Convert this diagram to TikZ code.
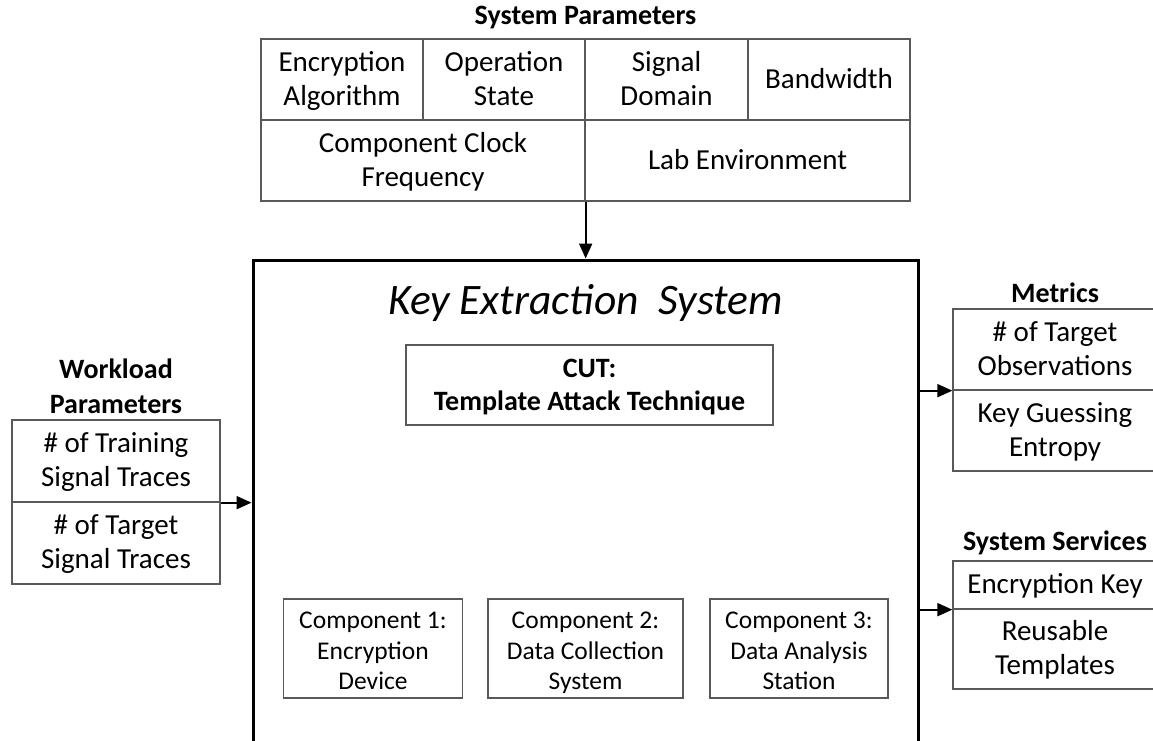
\documentclass[tikz,border=0pt]{standalone}
\usepackage{fontspec}
\setmainfont{Carlito}
\usetikzlibrary{arrows.meta}
\begin{document}
\begin{tikzpicture}[x=1pt,y=-1pt,
  cell/.style={draw=black!65,line width=1.3pt,inner sep=0pt,align=center,font=\fontsize{29}{34}\selectfont,
    text height=51pt,text depth=0pt},
  oneline/.style={text height=17pt,text depth=0pt},
  comp/.style={draw=black!65,line width=1.3pt,inner sep=0pt,align=center,font=\fontsize{25.5}{30.5}\selectfont,minimum height=99,
    text height=82pt,text depth=0pt},
  ttl/.style={font=\fontsize{28}{35}\selectfont\bfseries,align=center,inner sep=0pt},
  arr/.style={line width=2pt,-{Triangle[length=15pt,width=13pt]}}]
\useasboundingbox (0,0) rectangle (1153,740);
% System parameters table
\node[ttl] (spt) at (585.5,18) {System Parameters};
\node[cell,minimum width=162,minimum height=81] (enc) at (342,79.5) {Encryption\\Algorithm};
\node[cell,minimum width=162,minimum height=81] (ops) at (504,79.5) {Operation\\State};
\node[cell,minimum width=163,minimum height=81] (sig) at (666.5,79.5) {Signal\\Domain};
\node[cell,oneline,minimum width=162,minimum height=81] (bw) at (829,79.5) {Bandwidth};
\node[cell,minimum width=324,minimum height=81] (clk) at (423,160.5) {Component Clock\\Frequency};
\node[cell,oneline,minimum width=325,minimum height=81] (lab) at (747.5,160.5) {Lab Environment};
% main system box
\node[draw,line width=3pt,minimum width=665,minimum height=560,inner sep=0pt] (kes) at (585.5,540) {};
\node[font=\fontsize{43.5}{52}\selectfont\itshape,inner sep=0pt] (kt) at (585.5,303) {Key Extraction\hspace{0.45em}System};
\node[cell,font=\fontsize{28}{33}\selectfont\bfseries,text height=50pt,minimum width=367,minimum height=80] (cut) at (589.5,385) {CUT:\\Template Attack Technique};
\node[comp,minimum width=179] (c1) at (373,648.5) {Component 1:\\Encryption\\Device};
\node[comp,minimum width=195] (c2) at (585.5,648.5) {Component 2:\\Data Collection\\System};
\node[comp,minimum width=178] (c3) at (799,648.5) {Component 3:\\Data Analysis\\Station};
\draw[arr] (clk.south east) -- (kes.north -| clk.south east);
% workload parameters
\node[ttl] (wlt) at (116,386) {Workload\\Parameters};
\node[cell,minimum width=208,minimum height=82] (wl1) at (116,461) {\# of Training\\Signal Traces};
\node[cell,minimum width=208,minimum height=82] (wl2) at (116,543) {\# of Target\\Signal Traces};
\draw[arr] (wl1.south east) -- (wl1.south east -| kes.west);
% metrics
\node[ttl] (mt) at (1055,293) {Metrics};
\node[cell,minimum width=204,minimum height=81] (m1) at (1055,349.5) {\# of Target\\Observations};
\node[cell,minimum width=204,minimum height=81] (m2) at (1055,430.5) {Key Guessing\\Entropy};
\draw[arr] (m1.south west -| kes.east) -- (m1.south west);
% system services
\node[ttl] (sst) at (1055,543) {System Services};
\node[cell,oneline,minimum width=204,minimum height=48] (s1) at (1055,585) {Encryption Key};
\node[cell,minimum width=204,minimum height=80] (s2) at (1055,649) {Reusable\\Templates};
\draw[arr] (s1.south west -| kes.east) -- (s1.south west);
\end{tikzpicture}
\end{document}
